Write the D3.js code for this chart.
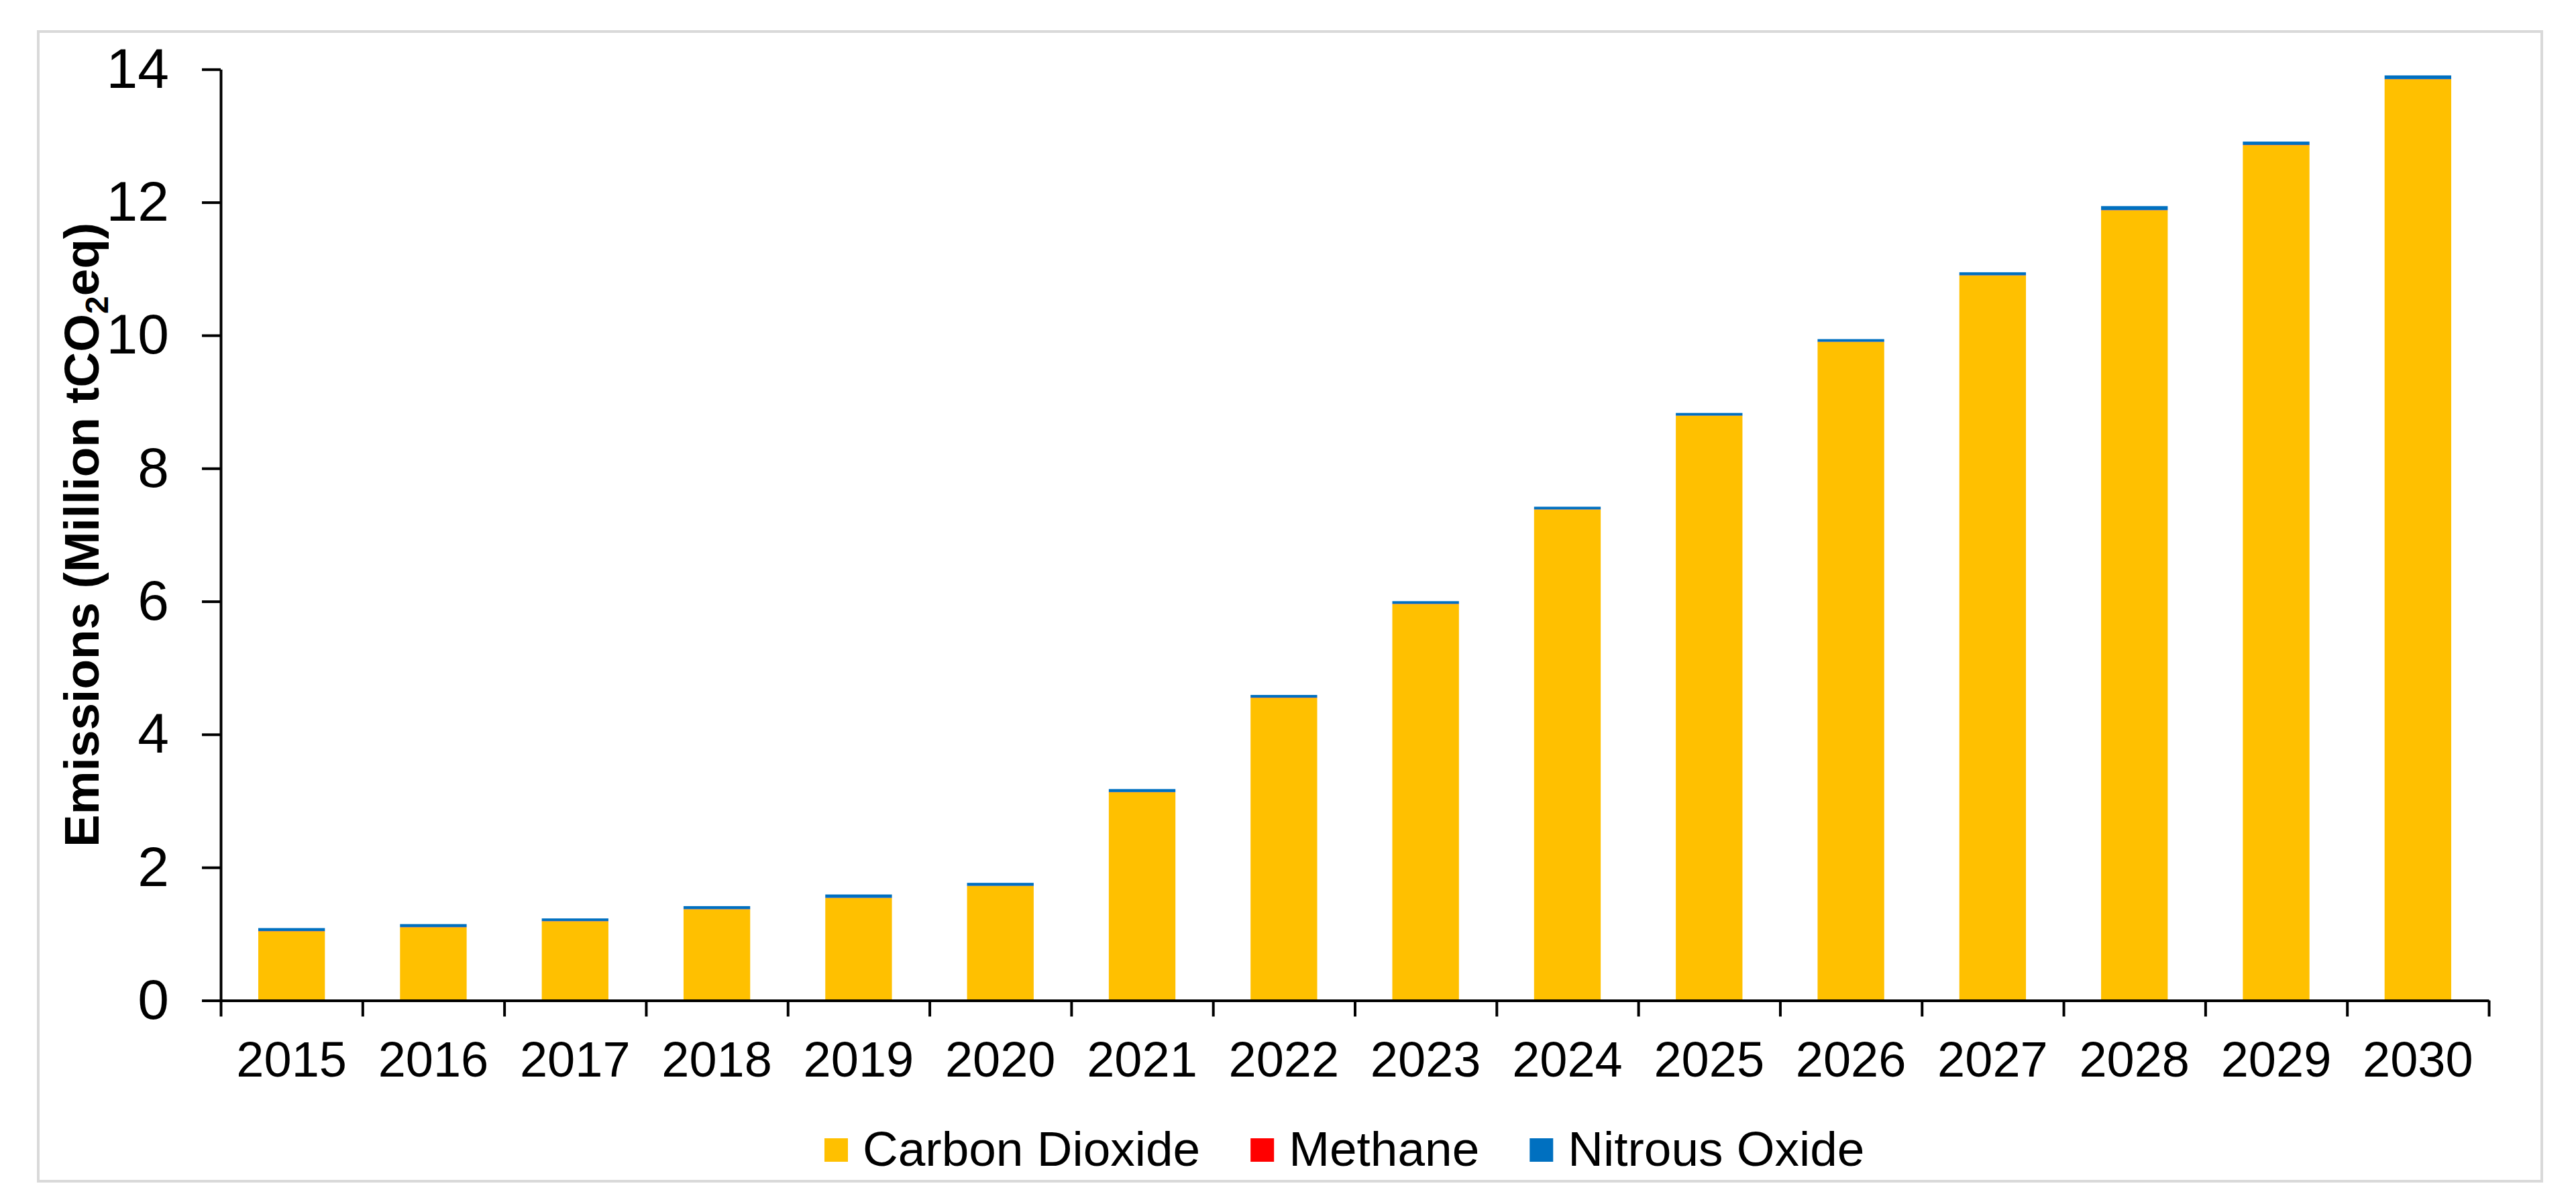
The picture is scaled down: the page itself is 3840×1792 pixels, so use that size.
<!DOCTYPE html>
<html>
<head>
<meta charset="utf-8">
<script src="https://cdn.jsdelivr.net/npm/d3@7"></script>
<style>
    html, body { margin: 0; padding: 0; background: #fff; }
    svg { display: block; font-family: "Liberation Sans", Arial, sans-serif; }
</style>
</head>
<body>
<div id="chart"></div>
<script>
// data
const years = ["2015", "2016", "2017", "2018", "2019", "2020", "2021", "2022",
               "2023", "2024", "2025", "2026", "2027", "2028", "2029", "2030"]
const carbonDioxide = [1.04, 1.10, 1.19, 1.37, 1.54, 1.72, 3.13, 4.55,
                       5.96, 7.38, 8.79, 9.90, 10.90, 11.88, 12.86, 13.85]
const methane = [0.003, 0.003, 0.003, 0.003, 0.003, 0.003, 0.003, 0.003,
                 0.003, 0.003, 0.003, 0.003, 0.003, 0.003, 0.003, 0.003]
const nitrousOxide = [0.045, 0.045, 0.04, 0.045, 0.05, 0.045, 0.045, 0.04,
                      0.04, 0.04, 0.04, 0.04, 0.045, 0.06, 0.05, 0.055]
const seriesNames = ["Carbon Dioxide", "Methane", "Nitrous Oxide"]
const seriesColors = ["#FFC000", "#FF0000", "#0070C0"]
const yTicks = [0, 2, 4, 6, 8, 10, 12, 14]

function drawChart() {
    const width = 3840
    const height = 1792
    const plot = {left: 329, right: 3710, top: 103.3, bottom: 1491.5}

    const svg = d3.select("#chart").append("svg")
                  .attr("width", width)
                  .attr("height", height)
                  .attr("viewBox", [0, 0, width, height])

    // outer frame
    svg.append("rect")
       .attr("x", 57)
       .attr("y", 47)
       .attr("width", 3732)
       .attr("height", 1714)
       .attr("fill", "#fff")
       .attr("stroke", "#d9d9d9")
       .attr("stroke-width", 4)

    // build stacked data
    const values = [carbonDioxide, methane, nitrousOxide]
    const data = years.map((year, i) => ({year, ...Object.fromEntries(seriesNames.map((n, k) => [n, values[k][i]]))}))
    const stackedData = d3.stack().keys(seriesNames)(data)

    // scales
    const xScale = d3.scaleBand()
                     .domain(years)
                     .range([plot.left, plot.right])
                     .paddingInner(0.53)
                     .paddingOuter(0.265)
    const xEdges = d3.scaleLinear()
                     .domain([0, years.length])
                     .range([plot.left, plot.right])
    const yScale = d3.scaleLinear()
                     .domain([0, 14])
                     .range([plot.bottom, plot.top])
    const colorScale = d3.scaleOrdinal()
                         .domain(seriesNames)
                         .range(seriesColors)

    // bars
    svg.append("g")
       .selectAll("g")
       .data(stackedData)
       .join("g")
       .attr("fill", d => colorScale(d.key))
       .selectAll("rect")
       .data(d => d)
       .join("rect")
       .attr("x", d => xScale(d.data.year))
       .attr("y", d => yScale(d[1]))
       .attr("width", xScale.bandwidth())
       .attr("height", d => yScale(d[0]) - yScale(d[1]))

    // y axis
    const yAxis = svg.append("g")
                     .attr("transform", `translate(${plot.left},0)`)
                     .call(d3.axisLeft(yScale)
                             .tickValues(yTicks)
                             .tickSize(28)
                             .tickSizeOuter(0)
                             .tickPadding(49))
    yAxis.select(".domain").attr("stroke", "#000").attr("stroke-width", 4)
    yAxis.selectAll(".tick line").attr("stroke", "#000").attr("stroke-width", 4)
    yAxis.selectAll(".tick text")
         .attr("fill", "#000")
         .style("font-family", "'Liberation Sans', Arial, sans-serif")
         .style("font-size", "84px")

    // x axis: category boundary ticks
    const xTickAxis = svg.append("g")
                         .attr("transform", `translate(0,${plot.bottom})`)
                         .call(d3.axisBottom(xEdges)
                                 .tickValues(d3.range(years.length + 1))
                                 .tickFormat("")
                                 .tickSize(24)
                                 .tickSizeOuter(0))
    xTickAxis.select(".domain").attr("stroke", "#000").attr("stroke-width", 4)
    xTickAxis.selectAll(".tick line").attr("stroke", "#000").attr("stroke-width", 4)

    // x axis: labels
    const xLabelAxis = svg.append("g")
                          .attr("transform", `translate(0,${plot.bottom})`)
                          .call(d3.axisBottom(xScale)
                                  .tickSize(0)
                                  .tickPadding(61))
    xLabelAxis.select(".domain").remove()
    xLabelAxis.selectAll(".tick text")
              .attr("fill", "#000")
              .style("font-family", "'Liberation Sans', Arial, sans-serif")
              .style("font-size", "74px")

    // y axis title
    const yTitle = svg.append("text")
                      .attr("transform", `translate(147,${(plot.top + plot.bottom) / 2}) rotate(-90)`)
                      .attr("text-anchor", "middle")
                      .style("font-size", "73px")
                      .style("font-weight", "bold")
                      .attr("fill", "#000")
    yTitle.append("tspan").text("Emissions (Million tCO")
    yTitle.append("tspan").attr("dy", 14).style("font-size", "48px").text("2")
    yTitle.append("tspan").attr("dy", -14).text("eq)")

    // legend
    const legend = svg.append("g")
                      .attr("transform", "translate(1229,1697)")
    let cursor = 0
    seriesNames.forEach((name, i) => {
        const item = legend.append("g")
                           .attr("transform", `translate(${cursor},0)`)
        item.append("rect")
            .attr("width", 35)
            .attr("height", 35)
            .attr("fill", colorScale(name))
        const label = item.append("text")
                          .attr("x", 57)
                          .attr("y", 41)
                          .attr("fill", "#000")
                          .style("font-size", "73px")
                          .text(name)
        cursor += 57 + label.node().getComputedTextLength() + 75
    })
}

drawChart()
</script>
</body>
</html>
